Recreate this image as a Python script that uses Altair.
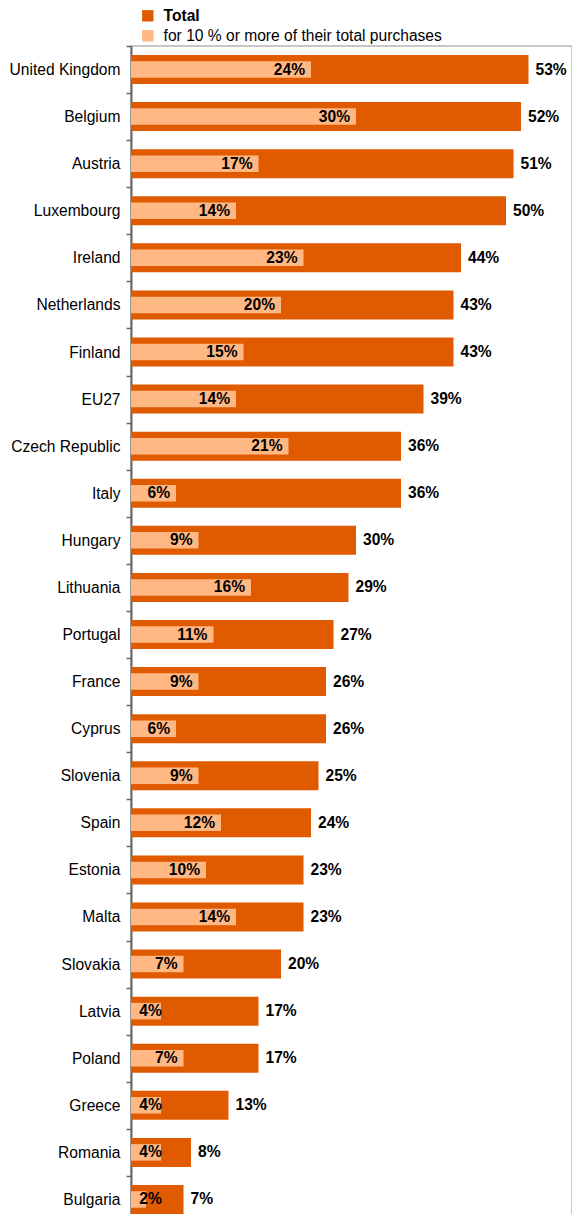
import altair as alt
import pandas as pd

countries = ["United Kingdom", "Belgium", "Austria", "Luxembourg", "Ireland", "Netherlands",
             "Finland", "EU27", "Czech Republic", "Italy", "Hungary", "Lithuania", "Portugal",
             "France", "Cyprus", "Slovenia", "Spain", "Estonia", "Malta", "Slovakia", "Latvia",
             "Poland", "Greece", "Romania", "Bulgaria"]
total = [53, 52, 51, 50, 44, 43, 43, 39, 36, 36, 30, 29, 27, 26, 26, 25, 24, 23, 23, 20, 17, 17, 13, 8, 7]
share10 = [24, 30, 17, 14, 23, 20, 15, 14, 21, 6, 9, 16, 11, 9, 6, 9, 12, 10, 14, 7, 4, 7, 4, 4, 2]
series_names = ["Total", "for 10 % or more of their total purchases"]
colors = ["#E05A00", "#FFB784"]

rows = []
for c, t, s in zip(countries, total, share10):
    rows.append({"country": c, "series": series_names[0], "value": t})
    rows.append({"country": c, "series": series_names[1], "value": s})
df = pd.DataFrame(rows)

FONT = "Liberation Sans"
XMAX = 58.8

y = alt.Y("country:N", sort=countries, title=None,
          scale=alt.Scale(paddingInner=0, paddingOuter=0),
          axis=alt.Axis(labelFont=FONT, labelFontSize=15.6, labelColor="#000000",
                        labelPadding=6, tickBand="extent", tickSize=5,
                        tickColor="#666666", tickWidth=1.5, domainColor="#666666",
                        domainWidth=2, labelLimit=200))
x = alt.X("value:Q", title=None, axis=None, scale=alt.Scale(domain=[0, XMAX], nice=False))
color = alt.Color("series:N", title=None,
                  scale=alt.Scale(domain=series_names, range=colors),
                  legend=alt.Legend(orient="none", legendX=9, legendY=-38, padding=0,
                                    symbolType="square", symbolSize=130,
                                    symbolStrokeWidth=0, labelFont=FONT,
                                    labelFontSize=15.6, labelColor="#000000",
                                    labelLimit=400,
                                    labelFontWeight=alt.ExprRef(expr="datum.label == 'Total' ? 'bold' : 'normal'"),
                                    rowPadding=3, labelOffset=8))

base = alt.Chart(df)
bars_total = base.transform_filter(alt.datum.series == series_names[0]).mark_bar(size=29).encode(
    y=y, x=x, color=color)
bars_light = base.transform_filter(alt.datum.series == series_names[1]).mark_bar(size=16.5).encode(
    y=y, x=x, color=color)
lab_total = base.transform_filter(alt.datum.series == series_names[0]).transform_calculate(
    txt="datum.value + '%'").mark_text(align="left", dx=7, font=FONT, fontSize=15.6,
                                         fontWeight="bold", color="#000000").encode(
    y=y, x=x, text="txt:N")
lab_light = base.transform_filter(alt.datum.series == series_names[1]).transform_calculate(
    txt="datum.value + '%'", lx="max(datum.value, 4.9)").mark_text(
    align="right", dx=-6, font=FONT, fontSize=15.6, fontWeight="bold", color="#000000").encode(
    y=y, x=alt.X("lx:Q", title=None, axis=None, scale=alt.Scale(domain=[0, XMAX], nice=False)),
    text="txt:N")

chart = alt.layer(bars_total, bars_light, lab_total, lab_light).properties(
    width=441, height=1177,
    autosize=alt.AutoSizeParams(type="none"),
    padding={"left": 123, "top": 38, "right": 0, "bottom": -9},
).configure_view(stroke="#b5b5b5", strokeWidth=1.5)

chart.save("out.html", embed_options={"renderer": "svg", "actions": False})
